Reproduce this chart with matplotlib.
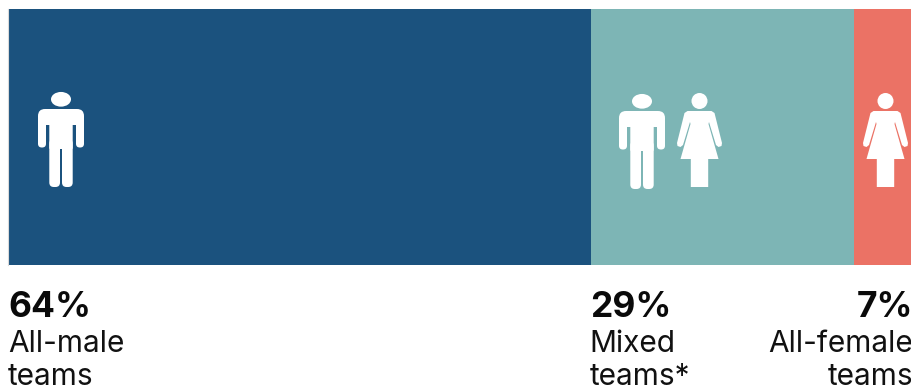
import matplotlib
matplotlib.use("Agg")
import matplotlib.pyplot as plt
from matplotlib.patches import Circle, Ellipse, FancyBboxPatch, Polygon

shares = [64, 29, 7]
share_labels = ["64%", "29%", "7%"]
group_labels = [["All-male", "teams"], ["Mixed", "teams*"], ["All-female", "teams"]]
colors = ["#1B527E", "#7DB5B5", "#EB7265"]

W, H = 912, 389
PX_PER_PCT = 9.09
BAR_LEFT, BAR_TOP, BAR_BOTTOM = 9, 9, 265

plt.rcParams['font.family'] = ['Inter', 'DejaVu Sans']

fig = plt.figure(figsize=(W / 100, H / 100), dpi=100)

# stacked bar, axes runs off the right edge so the last segment gets cut
ax = fig.add_axes([BAR_LEFT / W, 1 - BAR_BOTTOM / H, (W + 4 - BAR_LEFT) / W, (BAR_BOTTOM - BAR_TOP) / H])
ax.set_xlim(0, (W + 4 - BAR_LEFT) / PX_PER_PCT)
ax.set_ylim(0, 1)
ax.axis("off")

left = 0
starts = []
for share, color in zip(shares, colors):
    ax.barh(0.5, share, left=left, height=1, color=color, linewidth=0)
    starts.append(left)
    left += share

# overlay in pixel coords for the icons
overlay = fig.add_axes([0, 0, 1, 1], zorder=5)
overlay.set_xlim(0, W)
overlay.set_ylim(H, 0)
overlay.axis("off")
overlay.patch.set_alpha(0)

# faint rule on the left side of the bar
overlay.plot([8.5, 8.5], [BAR_TOP, BAR_BOTTOM], color="#DADADA", lw=0.8)


def rounded(x0, y0, x1, y1, r):
    return FancyBboxPatch((x0 + r, y0 + r), x1 - x0 - 2 * r, y1 - y0 - 2 * r,
                          boxstyle=f"round,pad={r},rounding_size={r}",
                          facecolor="white", edgecolor="none")


def draw_male(cx, top):
    # top is the top of the head
    overlay.add_patch(Ellipse((cx, top + 7.3), 20, 14.7, facecolor="white", edgecolor="none"))
    y = top + 17
    overlay.add_patch(rounded(cx - 23, y, cx + 23, y + 16, 7))
    overlay.add_patch(rounded(cx - 23, y + 6, cx - 15, y + 38.5, 3.8))
    overlay.add_patch(rounded(cx + 15, y + 6, cx + 23, y + 38.5, 3.8))
    overlay.add_patch(rounded(cx - 11.7, y + 4, cx + 11.7, y + 40, 1))
    overlay.add_patch(rounded(cx - 11.7, y + 30, cx - 1, y + 78, 4.5))
    overlay.add_patch(rounded(cx + 1, y + 30, cx + 11.7, y + 78, 4.5))


def draw_female(cx, top):
    overlay.add_patch(Circle((cx, top + 8), 8, facecolor="white", edgecolor="none"))
    y = top + 18
    outline = [(-12, 0), (12, 0), (15, 2), (22.5, 32), (22, 35), (19, 36), (16.5, 34),
               (9.5, 11), (9, 13), (19, 48), (8.7, 48), (8.7, 76), (-8.7, 76), (-8.7, 48),
               (-19, 48), (-9, 13), (-9.5, 11), (-16.5, 34), (-19, 36), (-22, 35), (-22.5, 32), (-15, 2)]
    overlay.add_patch(Polygon([(cx + px, y + py) for px, py in outline], closed=True,
                              facecolor="white", edgecolor="none"))


draw_male(61, 92)
draw_male(642, 94)
draw_female(699.5, 93)
draw_female(885.5, 93)

# labels under each segment, last one is right aligned to the edge
for i, (pct, lines) in enumerate(zip(share_labels, group_labels)):
    if i == len(shares) - 1:
        x, ha = 913, "right"
    else:
        x, ha = BAR_LEFT + starts[i] * PX_PER_PCT - 1, "left"
    overlay.text(x, 317, pct, ha=ha, va="baseline", fontsize=25.5, fontweight="bold", color="#0A0A0A")
    overlay.text(x, 352, lines[0], ha=ha, va="baseline", fontsize=21.5, color="#111111")
    overlay.text(x, 385, lines[1], ha=ha, va="baseline", fontsize=21.5, color="#111111")

fig.savefig("out.png", dpi=100)
